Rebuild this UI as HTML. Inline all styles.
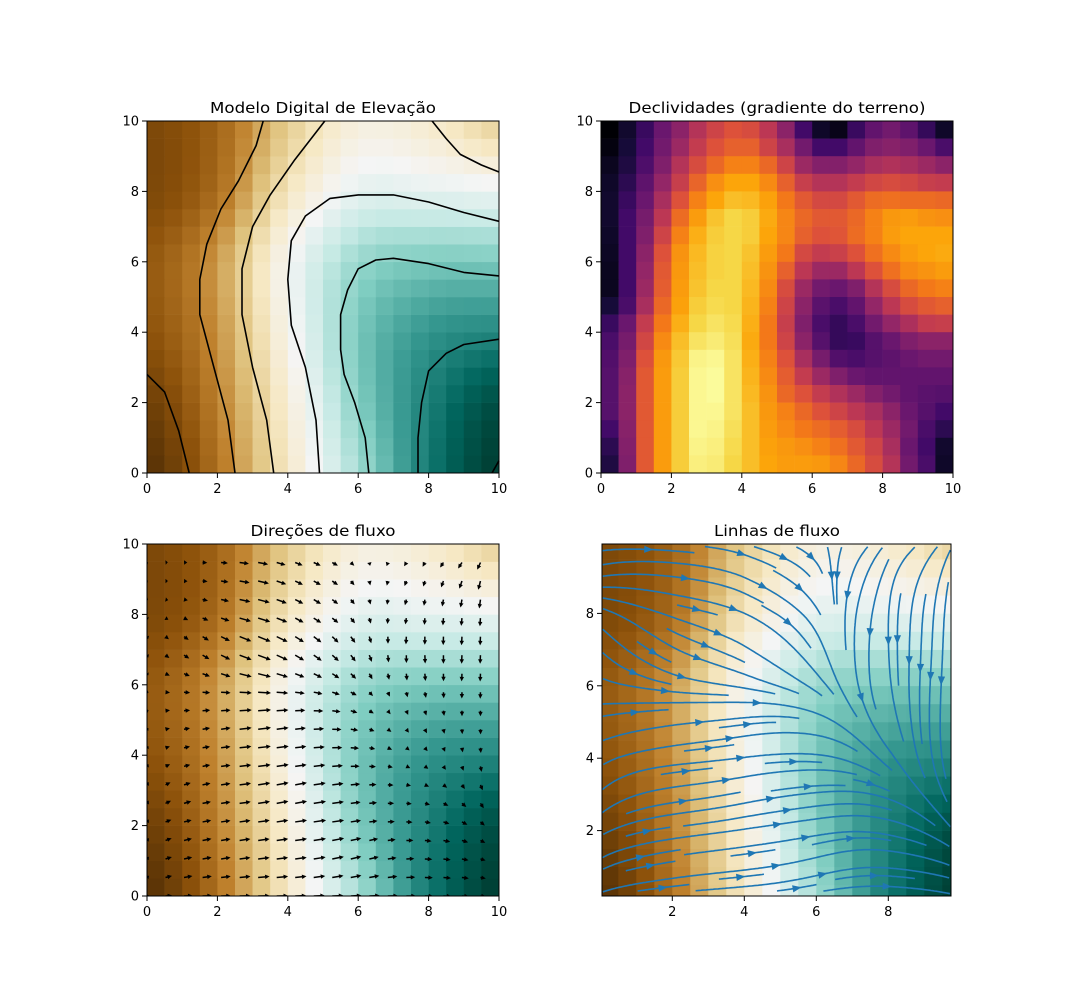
<!DOCTYPE html>
<html><head><meta charset="utf-8"><style>
html,body{margin:0;padding:0;background:#fff;}
svg{display:block;font-family:"DejaVu Sans","Liberation Sans",sans-serif;}
</style></head><body>
<svg id="s" xmlns="http://www.w3.org/2000/svg" width="1073" height="1007" viewBox="0 0 1073 1007">
<rect width="1073" height="1007" fill="#fff"/>
<defs>
<clipPath id="c3"><rect x="147" y="544" width="352" height="352"/></clipPath>
<clipPath id="c4"><rect x="602" y="544" width="349" height="352"/></clipPath>
</defs>
<text x="323" y="113" font-size="15.5" text-anchor="middle" textLength="226" lengthAdjust="spacingAndGlyphs">Modelo Digital de Elevação</text>
<text x="777" y="113" font-size="15.5" text-anchor="middle" textLength="297" lengthAdjust="spacingAndGlyphs">Declividades (gradiente do terreno)</text>
<text x="323" y="536" font-size="15.5" text-anchor="middle" textLength="145" lengthAdjust="spacingAndGlyphs">Direções de fluxo</text>
<text x="777" y="536" font-size="15.5" text-anchor="middle" textLength="126" lengthAdjust="spacingAndGlyphs">Linhas de fluxo</text>
</svg>
<script>
const NS='http://www.w3.org/2000/svg';
const S=document.getElementById('s');
function el(t,a,p){const e=document.createElementNS(NS,t);for(const k in a)e.setAttribute(k,a[k]);(p||S).appendChild(e);return e;}
function hex(h){return [parseInt(h.substr(1,2),16),parseInt(h.substr(3,2),16),parseInt(h.substr(5,2),16)];}
const BrBG=['#543005','#8c510a','#bf812d','#dfc27d','#f6e8c3','#f5f5f5','#c7eae5','#80cdc1','#35978f','#01665e','#003c30'].map(hex);
const INF=['#000004','#160b39','#420a68','#6a176e','#932667','#bc3754','#dd513a','#f37819','#fca50a','#f6d746','#fcffa4'].map(hex);
function cmap(st,t){t=Math.max(0,Math.min(1,t));const f=t*(st.length-1);const i=Math.min(st.length-2,Math.floor(f));const r=f-i;
 const c=st[i].map((v,k)=>Math.round(v+(st[i+1][k]-v)*r));return 'rgb('+c.join(',')+')';}
const ZT=[[0.0,1.2,2.9,4.6,6.1,7.1],[0.3,1.4,3.1,4.9,6.0,6.8],[0.7,1.6,3.4,5.0,5.7,5.9],[0.8,1.7,3.5,4.7,5.0,5.0],[0.5,1.15,2.8,3.8,3.8,3.7],[0.5,1.0,2.3,3.2,3.0,2.4]];
function cr(p0,p1,p2,p3,t){return 0.5*((2*p1)+(-p0+p2)*t+(2*p0-5*p1+4*p2-p3)*t*t+(-p0+3*p1-3*p2+p3)*t*t*t);}
function cl(i){return Math.max(0,Math.min(5,i));}
function Z(x,y){let u=Math.max(0,Math.min(10,x))/2,v=Math.max(0,Math.min(10,y))/2;let i=Math.min(4,Math.floor(u)),j=Math.min(4,Math.floor(v));const tu=u-i,tv=v-j;
 const rows=[];for(let jj=j-1;jj<=j+2;jj++){const R=ZT[cl(jj)];rows.push(cr(R[cl(i-1)],R[cl(i)],R[cl(i+1)],R[cl(i+2)],tu));}
 return cr(rows[0],rows[1],rows[2],rows[3],tv);}
function G(x,y){const h=0.05;return [(Z(x+h,y)-Z(x-h,y))/(2*h),(Z(x,y+h)-Z(x,y-h))/(2*h)];}
const ZMIN=0.0,ZMAX=7.1;
function zc(z){return cmap(BrBG,(z-ZMIN)/(ZMAX-ZMIN));}
function zcells(x0,y0){const g=el('g',{});for(let j=0;j<20;j++)for(let i=0;i<20;i++){const xc=0.25+0.5*i,yc=0.25+0.5*j;
 el('rect',{x:(x0+i*17.6).toFixed(2),y:(y0+352-(j+1)*17.6).toFixed(2),width:17.9,height:17.9,fill:zc(Z(xc,yc))},g);}return g;}
zcells(147,121);
zcells(147,544);
const CT=[
[[0,2.8],[0.5,2.3],[0.9,1.2],[1.2,0]],
[[2.5,0],[2.3,1.5],[1.9,3],[1.5,4.5],[1.5,5.5],[1.7,6.5],[2.1,7.5],[2.6,8.3],[3.1,9.3],[3.3,10]],
[[3.6,0],[3.4,1.5],[3.0,3],[2.7,4.5],[2.7,5.8],[3.0,7],[3.5,7.9],[4.2,8.9],[5.05,10]],
[[4.9,0],[4.8,1.5],[4.5,3],[4.1,4.2],[4.0,5.5],[4.1,6.6],[4.5,7.3],[5.2,7.8],[6,7.9],[7,7.9],[8,7.7],[9,7.4],[10,7.15]],
[[6.3,0],[6.2,1],[5.9,2],[5.6,2.8],[5.5,3.5],[5.5,4.5],[5.7,5.2],[6.0,5.8],[6.5,6.05],[7,6.1],[8,5.95],[9,5.7],[10,5.6]],
[[7.7,0],[7.7,1],[7.8,2],[8.0,2.9],[8.5,3.4],[9,3.65],[10,3.8]],
[[9.8,0],[10,0.35]],
[[8.1,10],[8.5,9.5],[8.9,9.05],[9.5,8.75],[10,8.55]]];
for(const c of CT){el('polyline',{points:c.map(p=>(147+p[0]*35.2).toFixed(1)+','+(473-p[1]*35.2).toFixed(1)).join(' '),fill:'none',stroke:'#000','stroke-width':1.6,'stroke-linejoin':'round'});}
const SL=[
[0,0.08,0.18,0.3,0.38,0.48,0.55,0.6,0.58,0.5,0.38,0.2,0.07,0.04,0.18,0.28,0.32,0.27,0.17,0.07],
[0.02,0.1,0.2,0.32,0.42,0.52,0.6,0.64,0.64,0.55,0.45,0.32,0.2,0.2,0.28,0.35,0.37,0.35,0.3,0.22],
[0.05,0.12,0.23,0.35,0.48,0.58,0.66,0.72,0.72,0.66,0.55,0.42,0.36,0.36,0.4,0.45,0.47,0.45,0.42,0.38],
[0.07,0.15,0.27,0.4,0.53,0.65,0.75,0.8,0.8,0.74,0.64,0.53,0.48,0.48,0.52,0.56,0.58,0.56,0.53,0.52],
[0.08,0.18,0.3,0.45,0.6,0.72,0.8,0.85,0.84,0.79,0.7,0.62,0.57,0.57,0.62,0.67,0.68,0.67,0.67,0.66],
[0.08,0.2,0.33,0.5,0.67,0.78,0.86,0.9,0.88,0.81,0.73,0.66,0.62,0.62,0.66,0.72,0.77,0.78,0.76,0.75],
[0.07,0.2,0.35,0.55,0.72,0.82,0.88,0.9,0.88,0.8,0.73,0.64,0.6,0.61,0.67,0.72,0.78,0.8,0.8,0.8],
[0.06,0.2,0.38,0.6,0.76,0.84,0.89,0.9,0.86,0.78,0.7,0.57,0.52,0.54,0.6,0.68,0.74,0.78,0.8,0.81],
[0.05,0.2,0.4,0.62,0.77,0.85,0.89,0.9,0.85,0.76,0.64,0.5,0.42,0.42,0.5,0.6,0.68,0.74,0.76,0.78],
[0.05,0.2,0.42,0.63,0.78,0.86,0.9,0.9,0.84,0.74,0.58,0.42,0.32,0.3,0.35,0.48,0.58,0.66,0.7,0.72],
[0.1,0.22,0.45,0.66,0.79,0.88,0.91,0.9,0.83,0.72,0.55,0.38,0.26,0.22,0.28,0.4,0.5,0.58,0.62,0.64],
[0.18,0.3,0.52,0.7,0.82,0.9,0.93,0.91,0.82,0.7,0.53,0.35,0.22,0.17,0.22,0.32,0.4,0.46,0.52,0.53],
[0.22,0.33,0.56,0.74,0.85,0.93,0.95,0.92,0.81,0.7,0.55,0.38,0.25,0.17,0.18,0.25,0.3,0.35,0.38,0.38],
[0.24,0.35,0.6,0.77,0.87,0.97,0.98,0.93,0.82,0.72,0.6,0.45,0.33,0.24,0.22,0.25,0.27,0.3,0.32,0.32],
[0.25,0.37,0.62,0.78,0.88,0.98,0.99,0.93,0.83,0.74,0.63,0.52,0.42,0.35,0.3,0.28,0.28,0.28,0.28,0.28],
[0.25,0.38,0.62,0.78,0.88,0.98,0.99,0.93,0.84,0.76,0.66,0.6,0.52,0.47,0.42,0.36,0.32,0.28,0.26,0.25],
[0.25,0.38,0.62,0.78,0.88,0.98,0.98,0.93,0.85,0.77,0.72,0.66,0.6,0.55,0.5,0.45,0.38,0.3,0.25,0.2],
[0.2,0.37,0.62,0.78,0.88,0.98,0.97,0.92,0.85,0.78,0.74,0.7,0.67,0.63,0.58,0.5,0.42,0.32,0.22,0.15],
[0.15,0.36,0.62,0.78,0.88,0.97,0.96,0.91,0.85,0.79,0.77,0.75,0.72,0.68,0.62,0.55,0.45,0.3,0.2,0.08],
[0.12,0.35,0.62,0.78,0.88,0.96,0.95,0.9,0.85,0.8,0.78,0.78,0.77,0.73,0.66,0.58,0.48,0.32,0.22,0.07]];
for(let r=0;r<20;r++)for(let i=0;i<20;i++)el('rect',{x:(601+i*17.6).toFixed(2),y:(121+r*17.6).toFixed(2),width:17.9,height:17.9,fill:cmap(INF,SL[r][i])});
(function(){const g=el('g',{'clip-path':'url(#c3)'});let pts=[],mx=0;
 for(let j=0;j<19;j++)for(let i=0;i<19;i++){const x=10*i/19,y=10*j/19;const d=G(x,y);const m=Math.hypot(d[0],d[1]);mx=Math.max(mx,m);pts.push([x,y,d,m]);}
 for(const p of pts){const L=13.5*p[3]/mx;if(L<0.6)continue;const ux=p[2][0]/p[3],uy=-p[2][1]/p[3];const px=147+p[0]*35.2,py=896-p[1]*35.2;
  const nx=-uy,ny=ux;const hl=Math.min(L,4.5),hw=2.2,sw=0.75;const bx=px+ux*(L-hl),by=py+uy*(L-hl);
  const P=[[px+nx*sw,py+ny*sw],[bx+nx*sw,by+ny*sw],[bx+nx*hw,by+ny*hw],[px+ux*L,py+uy*L],[bx-nx*hw,by-ny*hw],[bx-nx*sw,by-ny*sw],[px-nx*sw,py-ny*sw]];
  el('polygon',{points:P.map(q=>q[0].toFixed(1)+','+q[1].toFixed(1)).join(' '),fill:'#000'},g);}})();
(function(){const g=el('g',{'clip-path':'url(#c4)'});
 const PX=x=>600.3+36*x,PY=y=>903-36.2*y;
 for(let j=0;j<20;j++)for(let i=0;i<20;i++){el('rect',{x:PX(i*0.5).toFixed(2),y:PY((j+1)*0.5).toFixed(2),width:18.3,height:18.4,fill:zc(Z(i*0.5+0.25,j*0.5+0.25))},g);}
 const X0=0.05,X1=9.73,Y0=0.19,Y1=9.85,N=30;const occ=new Uint8Array(N*N);
 const toD=(mx,my)=>[X0+(mx/N)*(X1-X0),Y0+(my/N)*(Y1-Y0)];
 function integ(sx,sy,dir,mine){const pts=[];let mx=sx,my=sy,len=0;const ds=0.15;
  let ci=Math.floor(mx),cj=Math.floor(my);
  for(let s=0;s<1200;s++){const d=toD(mx,my);const gr=G(d[0],d[1]);let vx=gr[0]*N/(X1-X0)*dir,vy=gr[1]*N/(Y1-Y0)*dir;const sp=Math.hypot(vx,vy);if(sp<1e-3)break;
   const nx=mx+vx/sp*ds,ny=my+vy/sp*ds;if(nx<0||ny<0||nx>=N||ny>=N)break;
   const ni=Math.floor(nx),nj=Math.floor(ny);
   if(ni!=ci||nj!=cj){if(occ[nj*N+ni])break;occ[nj*N+ni]=1;mine.push(nj*N+ni);ci=ni;cj=nj;}
   mx=nx;my=ny;len+=ds;pts.push([mx,my]);if(len>4*N)break;}
  return [pts,len];}
 const seeds=[];let xf=0,yf=0,xl=N-1,yl=N-1;let x=0,y=0,dirn='right';
 for(let k=0;k<N*N;k++){seeds.push([x,y]);
  if(dirn=='right'){x++;if(x>=xl){xl--;dirn='up';}}
  else if(dirn=='up'){y++;if(y>=yl){yl--;dirn='left';}}
  else if(dirn=='left'){x--;if(x<=xf){xf++;dirn='down';}}
  else {y--;if(y<=yf){yf++;dirn='right';}}}
 const lines=[];
 for(const sd of seeds){const id=sd[1]*N+sd[0];if(occ[id])continue;const mine=[id];occ[id]=1;
  const sx=sd[0]+0.5,sy=sd[1]+0.5;const b=integ(sx,sy,-1,mine);const f=integ(sx,sy,1,mine);
  if(b[1]+f[1]<3){for(const m of mine)occ[m]=0;continue;}
  const pts=b[0].reverse().concat([[sx,sy]],f[0]);lines.push(pts);}
 for(const L of lines){const P=L.map(p=>{const d=toD(p[0],p[1]);return [PX(d[0]),PY(d[1])];});
  el('polyline',{points:P.map(q=>q[0].toFixed(1)+','+q[1].toFixed(1)).join(' '),fill:'none',stroke:'#1f77b4','stroke-width':1.6,'stroke-linejoin':'round'},g);
  const n=Math.floor(P.length/2);if(n+1<P.length){const a=P[n],c=P[n+1];let ux=c[0]-a[0],uy=c[1]-a[1];const m=Math.hypot(ux,uy);if(m>0){ux/=m;uy/=m;
   const tip=[a[0]+ux*4,a[1]+uy*4],base=[a[0]-ux*5,a[1]-uy*5];
   el('polygon',{points:[tip,[base[0]-uy*3.6,base[1]+ux*3.6],[base[0]+uy*3.6,base[1]-ux*3.6]].map(q=>q[0].toFixed(1)+','+q[1].toFixed(1)).join(' '),fill:'#1f77b4'},g);}}}
})();
function axes(x0,y0,w,h,xt,yt){el('rect',{x:x0,y:y0,width:w,height:h,fill:'none',stroke:'#000','stroke-width':1});
 for(const t of xt){el('line',{x1:t[1],y1:y0+h,x2:t[1],y2:y0+h+5,stroke:'#000','stroke-width':1});const e=el('text',{x:t[1],y:y0+h+20,'font-size':13,'text-anchor':'middle'});e.textContent=t[0];}
 for(const t of yt){el('line',{x1:x0,y1:t[1],x2:x0-5,y2:t[1],stroke:'#000','stroke-width':1});const e=el('text',{x:x0-8,y:t[1]+4.5,'font-size':13,'text-anchor':'end'});e.textContent=t[0];}}
function std(x0,y0){const xt=[],yt=[];for(let v=0;v<=10;v+=2){xt.push([v,x0+v*35.2]);yt.push([v,y0+352-v*35.2]);}return [xt,yt];}
let a=std(147,121);axes(147,121,352,352,a[0],a[1]);
a=std(601,121);axes(601,121,352,352,a[0],a[1]);
a=std(147,544);axes(147,544,352,352,a[0],a[1]);
axes(602,544,349,352,[2,4,6,8].map(v=>[v,600.3+36*v]),[2,4,6,8].map(v=>[v,903-36.2*v]));
</script>
</body></html>
